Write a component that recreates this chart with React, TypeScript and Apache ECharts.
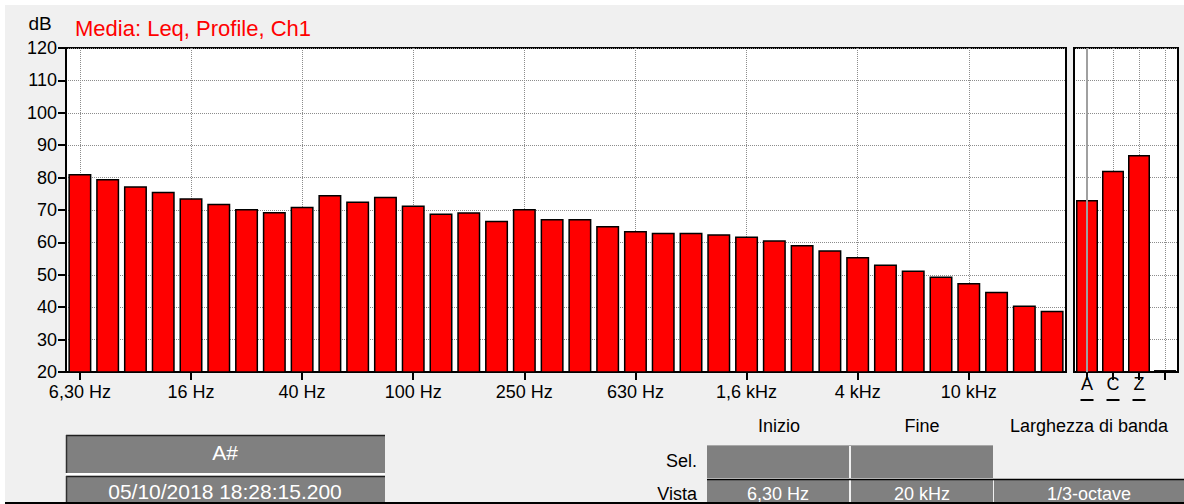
import React, { useEffect, useRef } from "react";
import * as echarts from "echarts";

const bands = [
  "6,30 Hz", "8 Hz", "10 Hz", "12,5 Hz", "16 Hz", "20 Hz", "25 Hz", "31,5 Hz",
  "40 Hz", "50 Hz", "63 Hz", "80 Hz", "100 Hz", "125 Hz", "160 Hz", "200 Hz",
  "250 Hz", "315 Hz", "400 Hz", "500 Hz", "630 Hz", "800 Hz", "1 kHz", "1,25 kHz",
  "1,6 kHz", "2 kHz", "2,5 kHz", "3,15 kHz", "4 kHz", "5 kHz", "6,3 kHz", "8 kHz",
  "10 kHz", "12,5 kHz", "16 kHz", "20 kHz",
];
const bandLevels = [
  81.1, 79.6, 77.3, 75.6, 73.6, 71.9, 70.3, 69.4,
  71.0, 74.6, 72.6, 74.1, 71.4, 68.9, 69.3, 66.7,
  70.3, 67.2, 67.2, 65.1, 63.5, 63.0, 63.0, 62.5,
  61.8, 60.7, 59.2, 57.6, 55.5, 53.2, 51.3, 49.5,
  47.5, 44.8, 40.5, 38.9,
];
const weightings = ["A", "C", "Z", ""];
const weightingLevels = [73.1, 82.1, 87.0, 20.6];
const cursorAt = "A";
const yMin = 20;
const yMax = 120;
const yStep = 10;

const titleText = "Media: Leq, Profile, Ch1";
const unitText = "dB";
const markerName = "A#";
const markerTime = "05/10/2018 18:28:15.200";
const tableHeaders = ["Inizio", "Fine", "Larghezza di banda"];
const rowLabels = ["Sel.", "Vista"];
const vistaValues = ["6,30 Hz", "20 kHz", "1/3-octave"];

const FONT = "'Liberation Sans', Arial, sans-serif";

function txt(x: number, y: number, text: string, size: number, fill: string, align = "center") {
  return {
    type: "text",
    x,
    y,
    silent: true,
    z: 10,
    style: { text, fontSize: size, fontFamily: FONT, fill, align, verticalAlign: "middle" },
  };
}
function box(x: number, y: number, w: number, h: number, fill: string, z = 5) {
  return { type: "rect", silent: true, z, shape: { x, y, width: w, height: h }, style: { fill } };
}
function ln(x1: number, y1: number, x2: number, y2: number, stroke: string, w = 1, z = 6) {
  return { type: "line", silent: true, z, shape: { x1, y1, x2, y2 }, style: { stroke, lineWidth: w } };
}

function baseGraphic() {
  return [
    box(0, 0, 1184, 5, "#ffffff", 1),
    box(0, 0, 5, 504, "#ffffff", 1),
    txt(40, 23, unitText, 19, "#000"),
    // left table
    box(66, 435, 319, 38, "#808080"),
    ln(66, 435.5, 385, 435.5, "#202020", 1.5),
    ln(66.5, 435, 66.5, 473, "#303030", 1.5),
    ln(66, 474, 385, 474, "#ffffff", 2),
    box(66, 476, 319, 28, "#808080"),
    ln(66, 476.5, 385, 476.5, "#202020", 1.5),
    ln(66.5, 476, 66.5, 504, "#303030", 1.5),
    txt(225, 452, markerName, 21, "#ffffff"),
    txt(225, 491, markerTime, 21, "#ffffff"),
    // right table
    txt(779, 426, tableHeaders[0], 18, "#000"),
    txt(922, 426, tableHeaders[1], 18, "#000"),
    txt(1089, 426, tableHeaders[2], 18, "#000"),
    txt(697, 461, rowLabels[0], 18, "#000", "right"),
    txt(697, 494, rowLabels[1], 18, "#000", "right"),
    box(707, 445, 142, 33, "#808080"),
    box(851, 445, 142, 33, "#808080"),
    ln(707, 445.5, 993, 445.5, "#a8a8a8", 1),
    box(707, 480, 142, 24, "#808080"),
    box(851, 480, 142, 24, "#808080"),
    box(994, 480, 190, 24, "#808080"),
    ln(707, 479.5, 1184, 479.5, "#000000", 1.5),
    txt(778, 494, vistaValues[0], 18, "#ffffff"),
    txt(922, 494, vistaValues[1], 18, "#ffffff"),
    txt(1089, 494, vistaValues[2], 18, "#ffffff"),
    box(5, 502, 1179, 2, "#000000", 20),
  ];
}

const dotted = { color: "#8c8c8c", width: 1, type: "dotted" as any };

export default function App() {
  const ref = useRef<HTMLDivElement>(null);
  useEffect(() => {
    document.body.style.margin = "0";
    const chart = echarts.init(ref.current!, null, { renderer: "svg" });
    const option: any = {
      animation: false,
      backgroundColor: "#f0f0f0",
      textStyle: { fontFamily: FONT },
      title: {
        text: titleText,
        left: 75,
        top: 17,
        padding: 0,
        textStyle: { color: "#ff0000", fontSize: 22, fontWeight: "normal", fontFamily: FONT },
      },
      grid: [
        { z: -1, left: 66, top: 48, width: 1000, height: 324, show: true, backgroundColor: "#ffffff", borderColor: "#000", borderWidth: 2 },
        { z: -1, left: 1074, top: 48, width: 104, height: 324, show: true, backgroundColor: "#ffffff", borderColor: "#000", borderWidth: 2 },
      ],
      xAxis: [
        {
          type: "category",
          gridIndex: 0,
          data: bands,
          axisLine: { show: true, lineStyle: { color: "#000", width: 2 } },
          axisTick: { show: true, interval: 3, alignWithLabel: true, length: 8, lineStyle: { color: "#000", width: 2 } },
          axisLabel: { interval: 3, fontSize: 18, color: "#000", margin: 11, fontFamily: FONT },
          splitLine: { show: true, interval: 3, alignWithLabel: true, lineStyle: dotted },
        },
        {
          type: "category",
          gridIndex: 1,
          data: weightings,
          axisLine: { show: true, lineStyle: { color: "#000", width: 2 } },
          axisTick: { show: true, alignWithLabel: true, length: 8, lineStyle: { color: "#000", width: 2 } },
          axisLabel: { interval: 0, fontSize: 18, color: "#000", margin: 3, fontFamily: FONT },
          splitLine: { show: true, interval: 0, alignWithLabel: true, lineStyle: dotted },
        },
      ],
      yAxis: [
        {
          type: "value",
          gridIndex: 0,
          min: yMin,
          max: yMax,
          interval: yStep,
          axisLine: { show: true, lineStyle: { color: "#000", width: 2 } },
          axisTick: { show: true, length: 8, lineStyle: { color: "#000", width: 2 } },
          axisLabel: { fontSize: 18, color: "#000", margin: 9, fontFamily: FONT },
          splitLine: { show: true, lineStyle: dotted },
        },
        {
          type: "value",
          gridIndex: 1,
          min: yMin,
          max: yMax,
          interval: yStep,
          axisLine: { show: true, lineStyle: { color: "#000", width: 2 } },
          axisTick: { show: false },
          axisLabel: { show: false },
          splitLine: { show: true, lineStyle: dotted },
        },
      ],
      series: [
        {
          type: "bar",
          xAxisIndex: 0,
          yAxisIndex: 0,
          data: bandLevels,
          barWidth: 23,
          itemStyle: { color: "#ff0000", borderColor: "#000", borderWidth: 1.5 },
        },
        {
          type: "bar",
          xAxisIndex: 1,
          yAxisIndex: 1,
          data: weightingLevels,
          barWidth: 22,
          itemStyle: { color: "#ff0000", borderColor: "#000", borderWidth: 1.5 },
          markLine: {
            silent: true,
            symbol: "none",
            label: { show: false },
            lineStyle: { color: "#a0a0a0", width: 2, type: "solid" },
            data: [{ xAxis: cursorAt }],
          },
        },
      ],
      graphic: baseGraphic(),
    };
    chart.setOption(option);
    const underlines = weightings
      .filter((w) => w !== "")
      .map((w) => {
        const cx = chart.convertToPixel({ xAxisIndex: 1 }, w) as number;
        return ln(cx - 6.5, 400, cx + 6.5, 400, "#000", 2, 10);
      });
    chart.setOption({ graphic: [...baseGraphic(), ...underlines] });
    return () => chart.dispose();
  }, []);
  return <div ref={ref} style={{ width: 1184, height: 504 }} />;
}
